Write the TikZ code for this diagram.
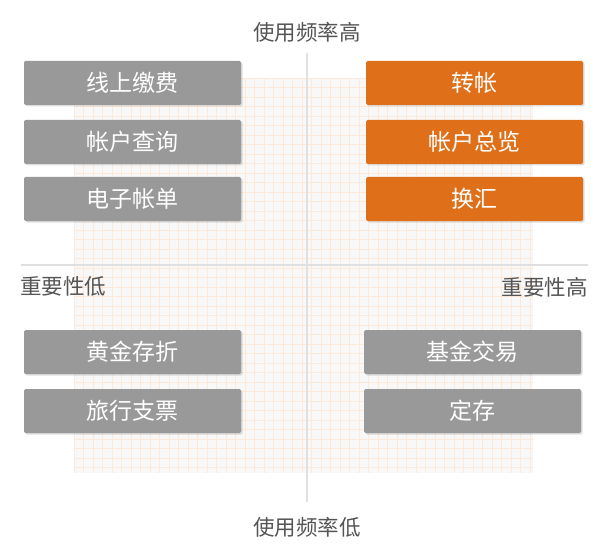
\documentclass[tikz,border=0pt]{standalone}
\usepackage{fontspec}
\setmainfont{Noto Sans CJK SC}
\usetikzlibrary{shadows}

\definecolor{boxgray}{HTML}{999999}
\definecolor{boxorange}{HTML}{DF7019}
\definecolor{gridbg}{HTML}{F8F8F8}
\definecolor{gridline}{HTML}{FDE9D8}
\definecolor{axisline}{HTML}{E0E0E0}
\definecolor{labeltext}{HTML}{555555}

\tikzset{
  card/.style={rectangle,rounded corners=1.5pt,fill=boxgray,text=white,
    minimum width=217pt,minimum height=44pt,inner sep=0pt,
    font=\fontsize{23}{27}\selectfont,
    drop shadow={opacity=0.25,shadow xshift=1.5pt,shadow yshift=-1.5pt}},
  hot/.style={card,fill=boxorange},
  axislabel/.style={text=labeltext,inner sep=0pt,font=\fontsize{21.5}{25}\selectfont}
}

\begin{document}
\begin{tikzpicture}[x=1pt,y=-1pt]

\useasboundingbox (0,0) rectangle (610,548);

% grid
\path[fill=gridbg] (74,78) rectangle (533,473);
\foreach \gx in {0,...,48} \path[draw=gridline,line width=0.6pt] (74+9.5*\gx,78) -- (74+9.5*\gx,473);
\foreach \gy in {0,...,41} \path[draw=gridline,line width=0.6pt] (74,78+9.5*\gy) -- (533,78+9.5*\gy);

% axes
\path[draw=axisline,line width=2pt] (21,265) -- (588,265);
\path[draw=axisline,line width=2pt] (307,53) -- (307,502);

\node[axislabel] (freqhigh) at (307,32) {使用频率高};
\node[axislabel] (freqlow) at (307,527) {使用频率低};
\node[axislabel,anchor=west] (implow) at (20,286) {重要性低};
\node[axislabel,anchor=east] (imphigh) at (588,287) {重要性高};

% low importance, high frequency
\node[card] (billpay) at (132.5,83) {线上缴费};
\node[card] (acctquery) at (132.5,142) {帐户查询};
\node[card] (ebill) at (132.5,199) {电子帐单};

% high importance, high frequency
\node[hot] (transfer) at (474.5,83) {转帐};
\node[hot] (overview) at (474.5,142) {帐户总览};
\node[hot] (exchange) at (474.5,199) {换汇};

% low importance, low frequency
\node[card] (gold) at (132.5,352) {黄金存折};
\node[card] (cheque) at (132.5,411) {旅行支票};

% high importance, low frequency
\node[card] (fund) at (472.5,352) {基金交易};
\node[card] (deposit) at (472.5,411) {定存};

\end{tikzpicture}
\end{document}
